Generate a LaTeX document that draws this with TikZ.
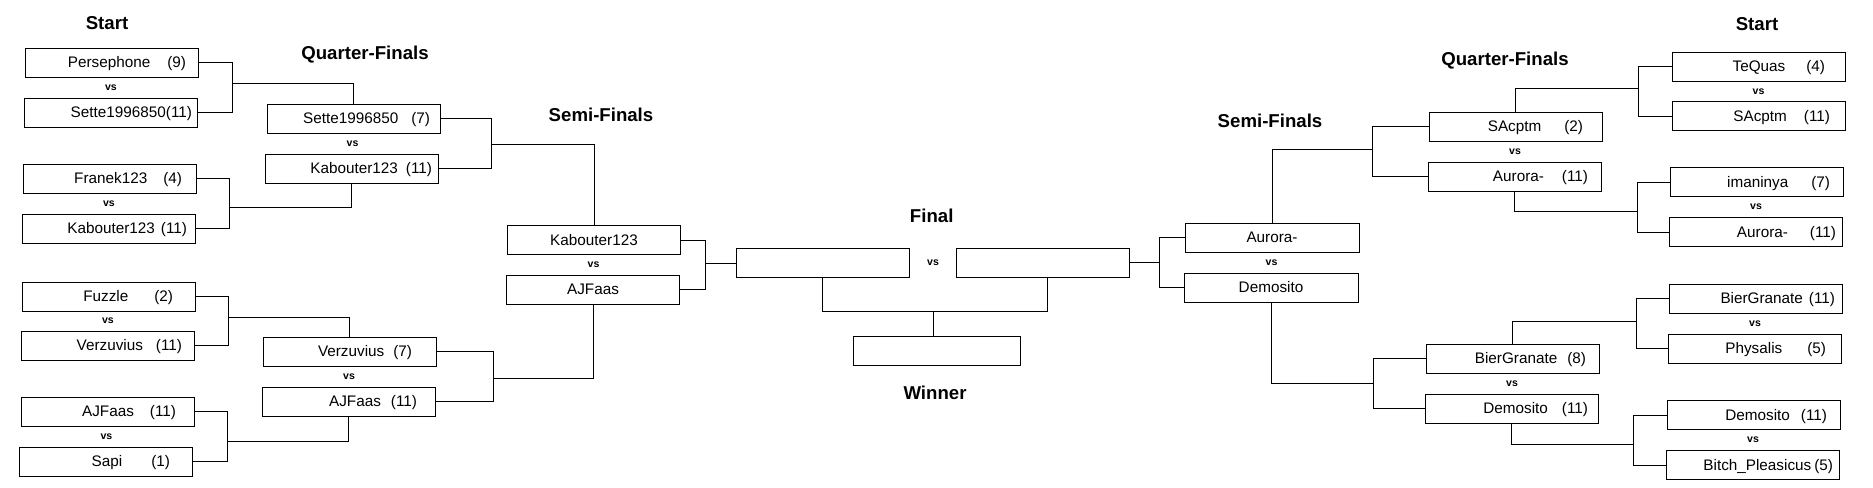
\documentclass[tikz,border=0pt]{standalone}
\usepackage{fontspec}
\setmainfont{Liberation Sans}
\usetikzlibrary{positioning, calc}

\newdimen\pxl \pxl=0.02cm
\newcommand{\entry}[3]{#1\hspace{#2\pxl}(#3)}

\begin{document}
\begin{tikzpicture}[
    x=0.02cm, y=-0.02cm,
    box/.style={rectangle, draw, line width=0.55pt, minimum width=#1, minimum height=0.58cm, inner sep=0pt, text height=7.5pt, text depth=1.8pt, font=\fontsize{8.7}{10}\selectfont},
    box/.default=3.46cm,
    pl/.style={box, align=right, text width={3.46cm-2*#1*\pxl}, inner xsep={#1*\pxl}},
    vs/.style={font=\fontsize{6}{7}\selectfont\bfseries, inner sep=0pt},
    ttl/.style={font=\fontsize{10.6}{12}\selectfont\bfseries, inner sep=0pt},
    wire/.style={line width=0.55pt}
]
\useasboundingbox (0,0) rectangle (1873,487);

% ---- Round titles ----
\node[ttl] (tstartl) at (107,23) {Start};
\node[ttl] (tquarl) at (365,55) {Quarter-Finals};
\node[ttl] (tsemil) at (601,115) {Semi-Finals};
\node[ttl] (tfinal) at (931.7,216) {Final};
\node[ttl] (twin) at (935,393.3) {Winner};
\node[ttl] (tsemir) at (1270,121) {Semi-Finals};
\node[ttl] (tquarr) at (1505,61) {Quarter-Finals};
\node[ttl] (tstartr) at (1757,24) {Start};

% ---- Left: start ----
\node[pl=12] (s1) at (111.5,62.5) {\entry{Persephone}{17}{9}};
\node[pl=5] (s2) at (110.5,112.5) {\entry{Sette1996850}{0}{11}};
\node[pl=14] (s3) at (109.5,178.5) {\entry{Franek123}{16}{4}};
\node[pl=8] (s4) at (108.5,228.5) {\entry{Kabouter123}{6}{11}};
\node[pl=22] (s5) at (108.5,296.5) {\entry{Fuzzle}{26}{2}};
\node[pl=12] (s6) at (107.5,345.5) {\entry{Verzuvius}{13}{11}};
\node[pl=18] (s7) at (107.5,411.5) {\entry{AJFaas}{16}{11}};
\node[pl=22] (s8) at (105.5,461.5) {\entry{Sapi}{29}{1}};

% ---- Left: quarter-finals ----
\node[pl=10] (q1) at (353.5,118.5) {\entry{Sette1996850}{13}{7}};
\node[pl=6] (q2) at (351.5,168.5) {\entry{Kabouter123}{8}{11}};
\node[pl=24] (q3) at (349.5,351.5) {\entry{Verzuvius}{9}{7}};
\node[pl=18] (q4) at (348.5,401.5) {\entry{AJFaas}{10}{11}};

% ---- Semi-finals and final ----
\node[box] (m1) at (594,240) {Kabouter123};
\node[box] (m2) at (593,289.8) {AJFaas};
\node[box] (f1) at (822.8,263) {};
\node[box=3.45cm] (f2) at (1043,262.8) {};
\node[box=3.34cm] (win) at (936.7,351) {};
\node[box=3.48cm] (m3) at (1272,237.5) {Aurora-};
\node[box=3.48cm] (m4) at (1271,287.5) {Demosito};

% ---- Right: quarter-finals ----
\node[pl=19] (q5) at (1515.5,126.5) {\entry{SAcptm}{23}{2}};
\node[pl=13] (q6) at (1514.5,176.5) {\entry{Aurora-}{18}{11}};
\node[pl=13] (q7) at (1512.5,358.5) {\entry{BierGranate}{10}{8}};
\node[pl=10] (q8) at (1511.5,408.5) {\entry{Demosito}{14}{11}};

% ---- Right: start ----
\node[pl=20] (t1) at (1758.5,66.5) {\entry{TeQuas}{21}{4}};
\node[pl=15] (t2) at (1758.5,116) {\entry{SAcptm}{17}{11}};
\node[pl=13] (t3) at (1756.5,182) {\entry{imaninya}{23}{7}};
\node[pl=6] (t4) at (1755.5,232) {\entry{Aurora-}{22}{11}};
\node[pl=7] (t5) at (1755.5,298.5) {\entry{BierGranate}{6}{11}};
\node[pl=15] (t6) at (1754.5,348.5) {\entry{Physalis}{25}{5}};
\node[pl=13] (t7) at (1753.5,415) {\entry{Demosito}{11}{11}};
\node[pl=6] (t8) at (1752.5,465) {\entry{Bitch\_Pleasicus}{3}{5}};

% ---- vs labels ----
\foreach \a/\b in {s1/s2,s3/s4,s5/s6,s7/s8,q1/q2,q3/q4,m1/m2,m3/m4,q5/q6,q7/q8,t1/t2,t3/t4,t5/t6,t7/t8}
    \node[vs] at ($(\a.south)!0.5!(\b.north)$) {vs};
\node[vs] at ($(f1.east)!0.5!(f2.west)$) {vs};

% ---- Junctions ----
\coordinate (j1) at (232,83);
\coordinate (j2) at (229,207);
\coordinate (j3) at (228,317);
\coordinate (j4) at (227,441);
\coordinate (k1) at (491,144.3);
\coordinate (k2) at (493,378.3);
\coordinate (fl) at (705.7,263);
\coordinate (jw) at (933.3,311);
\coordinate (fr) at (1159.3,262.8);
\coordinate (k3) at (1372,149);
\coordinate (k4) at (1373,383);
\coordinate (j5) at (1638,88);
\coordinate (j6) at (1637,211);
\coordinate (j7) at (1636,321);
\coordinate (j8) at (1633,444);

% ---- Left bracket lines ----
\foreach \a/\b/\j/\q/\s in {s1/s2/j1/q1/north,s3/s4/j2/q2/south,s5/s6/j3/q3/north,s7/s8/j4/q4/south,q1/q2/k1/m1/north,q3/q4/k2/m2/south}
{
    \draw[wire] (\a.east) -| (\j);
    \draw[wire] (\b.east) -| (\j);
    \draw[wire] (\j) -| (\q.\s);
}
\draw[wire] (m1.east) -| (fl);
\draw[wire] (m2.east) -| (fl);
\draw[wire] (fl) -- (f1.west);

% ---- Right bracket lines ----
\foreach \a/\b/\j/\q/\s in {t1/t2/j5/q5/north,t3/t4/j6/q6/south,t5/t6/j7/q7/north,t7/t8/j8/q8/south,q5/q6/k3/m3/north,q7/q8/k4/m4/south}
{
    \draw[wire] (\a.west) -| (\j);
    \draw[wire] (\b.west) -| (\j);
    \draw[wire] (\j) -| (\q.\s);
}
\draw[wire] (m3.west) -| (fr);
\draw[wire] (m4.west) -| (fr);
\draw[wire] (fr) -- (f2.east);

% ---- Final to winner ----
\draw[wire] (f1.south) |- (jw);
\draw[wire] ($(f2.south)+(4.7,0)$) |- (jw);
\draw[wire] (jw) -- (jw |- win.north);

\end{tikzpicture}
\end{document}
